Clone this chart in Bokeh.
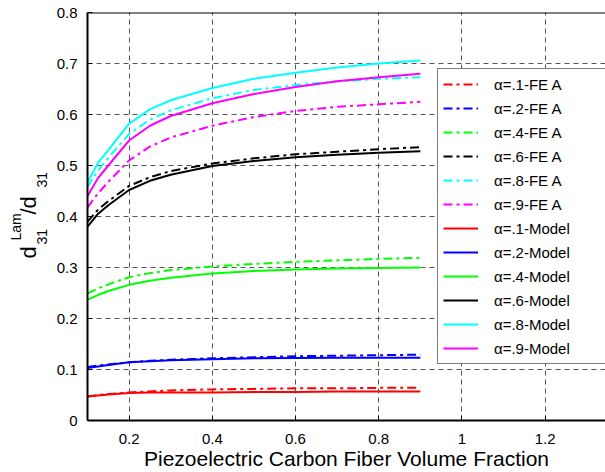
import numpy as np
from bokeh.plotting import figure
from bokeh.models import FixedTicker, Span, Range1d
from bokeh.layouts import row
from bokeh.embed import file_html
from bokeh.resources import INLINE
from bokeh.core.properties import value

# ---------------- data ----------------
vf = [0.1, 0.125, 0.15, 0.2, 0.25, 0.3, 0.4, 0.5, 0.6, 0.7, 0.8, 0.9]

fe_a1 = [0.047, 0.050, 0.052, 0.055, 0.057, 0.059, 0.061, 0.062, 0.063, 0.063, 0.064, 0.064]
fe_a2 = [0.105, 0.108, 0.110, 0.114, 0.117, 0.119, 0.122, 0.124, 0.126, 0.127, 0.128, 0.129]
fe_a4 = [0.249, 0.259, 0.267, 0.281, 0.289, 0.295, 0.302, 0.307, 0.311, 0.314, 0.317, 0.319]
fe_a6 = [0.390, 0.413, 0.430, 0.460, 0.477, 0.489, 0.504, 0.514, 0.522, 0.527, 0.532, 0.536]
fe_a8 = [0.458, 0.490, 0.515, 0.562, 0.590, 0.608, 0.632, 0.648, 0.658, 0.665, 0.670, 0.673]
fe_a9 = [0.418, 0.445, 0.468, 0.510, 0.537, 0.555, 0.578, 0.595, 0.607, 0.615, 0.620, 0.625]

mod_a1 = [0.047, 0.049, 0.051, 0.054, 0.055, 0.055, 0.055, 0.056, 0.056, 0.057, 0.057, 0.057]
mod_a2 = [0.103, 0.106, 0.109, 0.114, 0.116, 0.118, 0.120, 0.122, 0.1225, 0.123, 0.123, 0.123]
mod_a4 = [0.237, 0.246, 0.254, 0.266, 0.274, 0.280, 0.288, 0.293, 0.296, 0.298, 0.299, 0.300]
mod_a6 = [0.380, 0.405, 0.422, 0.452, 0.470, 0.482, 0.499, 0.509, 0.516, 0.521, 0.525, 0.528]
mod_a8 = [0.467, 0.505, 0.530, 0.582, 0.610, 0.628, 0.652, 0.670, 0.682, 0.692, 0.700, 0.706]
mod_a9 = [0.440, 0.475, 0.500, 0.549, 0.578, 0.597, 0.622, 0.640, 0.654, 0.665, 0.673, 0.680]

alphas = [".1", ".2", ".4", ".6", ".8", ".9"]
colors = ["#ff0000", "#0000ff", "#00ff00", "#000000", "#00ffff", "#ff00ff"]
fe_series = [fe_a1, fe_a2, fe_a4, fe_a6, fe_a8, fe_a9]
mod_series = [mod_a1, mod_a2, mod_a4, mod_a6, mod_a8, mod_a9]

x_ticks = [0.2, 0.4, 0.6, 0.8, 1.0, 1.2]
x_tick_labels = ["0.2", "0.4", "0.6", "0.8", "1", "1.2"]
y_ticks = [0, 0.1, 0.2, 0.3, 0.4, 0.5, 0.6, 0.7, 0.8]
y_tick_labels = ["0", "0.1", "0.2", "0.3", "0.4", "0.5", "0.6", "0.7", "0.8"]

x_title = "Piezoelectric Carbon Fiber Volume Fraction"
# y title pieces: d_31^Lam / d_31
y_title_parts = ["d", "31", "Lam", "/d", "31"]

FONT = "Liberation Sans"
W, H = 605, 472
LEFT_W = 50
TOP, BOTTOM = 12, 52
FRAME_BOTTOM = H - BOTTOM  # page y of the x axis

# ---------------- left strip holding the rotated y-axis title ----------------
yt = figure(width=LEFT_W, height=H, output_backend="svg", toolbar_location=None,
            x_range=Range1d(0, LEFT_W), y_range=Range1d(0, H - TOP - BOTTOM),
            min_border_left=0, min_border_right=0, min_border_top=TOP, min_border_bottom=BOTTOM,
            x_axis_location=None, y_axis_location=None)
yt.outline_line_color = None
yt.grid.visible = False
yt.background_fill_color = "white"
yt.border_fill_color = "white"

# layout of the title pieces: text-box bottom x, start y (page pixels), font size
part_bx = [40, 46, 23, 40, 46]
part_by = [258, 244, 240, 214, 187]
part_fs = ["22px", "14px", "14px", "22px", "14px"]
for txt, bx, by, fs in zip(y_title_parts, part_bx, part_by, part_fs):
    yt.text(x=[bx], y=[FRAME_BOTTOM - by], text=[txt], angle=np.pi / 2,
            text_font=value(FONT), text_font_size=fs, text_color="black")

# ---------------- main plot ----------------
p = figure(width=W - LEFT_W, height=H, output_backend="svg", toolbar_location=None,
           x_range=Range1d(0.1, 1.345), y_range=Range1d(0, 0.8),
           min_border_left=87 - LEFT_W, min_border_right=0, min_border_top=TOP, min_border_bottom=BOTTOM)
p.outline_line_color = None
p.background_fill_color = "white"
p.border_fill_color = "white"

for g, t in ((p.xgrid, x_ticks), (p.ygrid, y_ticks[1:-1])):
    g.ticker = FixedTicker(ticks=t)
    g.grid_line_color = "#555555"
    g.grid_line_dash = "5 4"
    g.grid_line_width = 1

p.xaxis.ticker = FixedTicker(ticks=x_ticks)
p.xaxis.major_label_overrides = dict(zip(x_ticks, x_tick_labels))
p.yaxis.ticker = FixedTicker(ticks=y_ticks)
p.yaxis.major_label_overrides = dict(zip(y_ticks, y_tick_labels))
for ax in (p.xaxis, p.yaxis):
    ax.axis_line_color = "black"
    ax.axis_line_width = 2
    ax.major_tick_in = 5
    ax.major_tick_out = 0
    ax.major_tick_line_color = "black"
    ax.major_tick_line_width = 1
    ax.minor_tick_line_color = None
    ax.major_label_text_font = FONT
    ax.major_label_text_font_size = "15px"
    ax.major_label_text_color = "black"
p.xaxis.major_label_standoff = 13
p.yaxis.major_label_standoff = 10

p.xaxis.axis_label = x_title
p.xaxis.axis_label_text_font = FONT
p.xaxis.axis_label_text_font_size = "21px"
p.xaxis.axis_label_text_font_style = "normal"
p.xaxis.axis_label_text_color = "black"
p.xaxis.axis_label_standoff = 0

# top border
p.add_layout(Span(location=0.8, dimension="width", line_color="black", line_width=2))

dash = "9 4 3 4"
for a, c, ys in zip(alphas, colors, fe_series):
    p.line(vf, ys, line_color=c, line_width=2, line_dash=dash, legend_label=f"α={a}-FE A")
for a, c, ys in zip(alphas, colors, mod_series):
    p.line(vf, ys, line_color=c, line_width=2, legend_label=f"α={a}-Model")

lg = p.legend[0]
lg.location = (350, 56)
lg.label_text_font = FONT
lg.label_text_font_size = "15px"
lg.label_text_color = "black"
lg.glyph_width = 35
lg.glyph_height = 20
lg.label_height = 20
lg.label_width = 140
lg.label_standoff = 16
lg.spacing = 4
lg.padding = 5
lg.margin = 0
lg.border_line_color = "black"
lg.border_line_width = 1.5
lg.background_fill_color = "white"
lg.background_fill_alpha = 1.0

layout = row(yt, p, spacing=0)
open("out.html", "w").write(file_html(layout, INLINE))
